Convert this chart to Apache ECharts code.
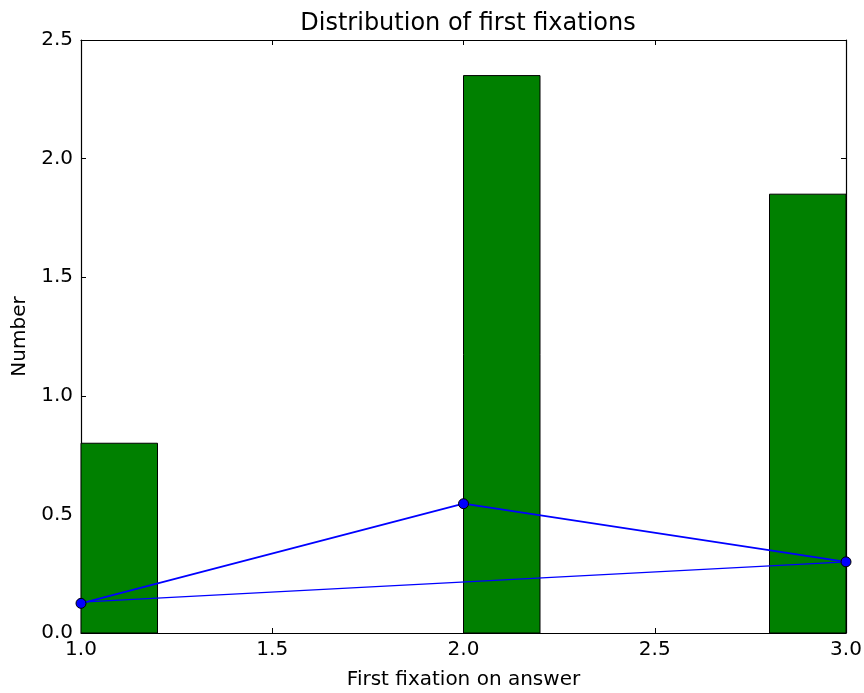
<!DOCTYPE html>
<html>
<head>
<meta charset="utf-8">
<script src="https://cdn.jsdelivr.net/npm/echarts@6/dist/echarts.min.js"></script>
<style>html,body{margin:0;padding:0;background:#fff;}#c{width:864px;height:693px;}</style>
</head>
<body>
<div id="c"></div>
<script>
// Histogram bins: left edge, right edge, height
const binStarts = [1.0, 2.0, 2.8];
const binEnds = [1.2, 2.2, 3.0];
const binHeights = [0.8, 2.35, 1.85];
// Line with markers
const lineX = [1, 2, 3];
const lineY = [0.125, 0.545, 0.30];
// Thin closing line
const closeX = [3, 1];
const closeY = [0.30, 0.13];
const xTicks = ['1.0', '1.5', '2.0', '2.5', '3.0'];
const yTicks = ['0.0', '0.5', '1.0', '1.5', '2.0', '2.5'];

const chart = echarts.init(document.getElementById('c'), null, {renderer: 'canvas'});
const font = 'DejaVu Sans';
const tickCommon = {show: true, inside: true, length: 5, lineStyle: {color: '#000', width: 1}};
const lineCommon = {show: true, onZero: false, lineStyle: {color: '#000', width: 1.2}};

chart.setOption({
  animation: false,
  backgroundColor: '#fff',
  title: {
    text: 'Distribution of first fixations',
    left: 463, top: 7, textAlign: 'center',
    textStyle: {fontFamily: font, fontSize: 24, fontWeight: 'normal', color: '#000'}
  },
  grid: {left: 81, right: 18, top: 40, bottom: 60, containLabel: false, outerBoundsMode: 'none'},
  xAxis: [{
    type: 'value', min: 1.0, max: 3.0, interval: 0.5, position: 'bottom',
    name: 'First fixation on answer', nameLocation: 'middle', nameGap: 37,
    nameTextStyle: {fontFamily: font, fontSize: 20, color: '#000'},
    axisLine: lineCommon, axisTick: tickCommon, splitLine: {show: false},
    axisLabel: {fontFamily: font, fontSize: 20, color: '#000', margin: 7,
      formatter: v => xTicks[Math.round((v - 1.0) / 0.5)]}
  }, {
    type: 'value', min: 1.0, max: 3.0, interval: 0.5, position: 'top',
    axisLine: lineCommon, axisTick: tickCommon, splitLine: {show: false},
    axisLabel: {show: false}
  }],
  yAxis: [{
    type: 'value', min: 0, max: 2.5, interval: 0.5, position: 'left',
    name: 'Number', nameLocation: 'middle', nameGap: 50, nameRotate: 90,
    nameTextStyle: {fontFamily: font, fontSize: 20, color: '#000'},
    axisLine: lineCommon, axisTick: tickCommon, splitLine: {show: false},
    axisLabel: {fontFamily: font, fontSize: 20, color: '#000', margin: 8,
      formatter: v => yTicks[Math.round(v / 0.5)]}
  }, {
    type: 'value', min: 0, max: 2.5, interval: 0.5, position: 'right',
    axisLine: lineCommon, axisTick: tickCommon, splitLine: {show: false},
    axisLabel: {show: false}
  }],
  series: [{
    type: 'custom',
    xAxisIndex: 0, yAxisIndex: 0,
    data: binStarts.map((s, i) => [s, binEnds[i], binHeights[i]]),
    renderItem: function (params, api) {
      const p0 = api.coord([api.value(0), 0]);
      const p1 = api.coord([api.value(1), api.value(2)]);
      return {
        type: 'rect',
        shape: {x: p0[0], y: p1[1], width: p1[0] - p0[0], height: p0[1] - p1[1]},
        style: {fill: '#008000', stroke: '#000', lineWidth: 1}
      };
    },
    z: 1
  }, {
    type: 'line',
    xAxisIndex: 0, yAxisIndex: 0,
    data: lineX.map((x, i) => [x, lineY[i]]),
    symbol: 'circle', symbolSize: 10,
    itemStyle: {color: '#0000ff', borderColor: '#000', borderWidth: 1},
    lineStyle: {color: '#0000ff', width: 1.8},
    clip: true,
    z: 3
  }, {
    type: 'line',
    xAxisIndex: 0, yAxisIndex: 0,
    data: closeX.map((x, i) => [x, closeY[i]]),
    symbol: 'none',
    lineStyle: {color: '#0000ff', width: 1.2},
    z: 2
  }]
});
</script>
</body>
</html>
